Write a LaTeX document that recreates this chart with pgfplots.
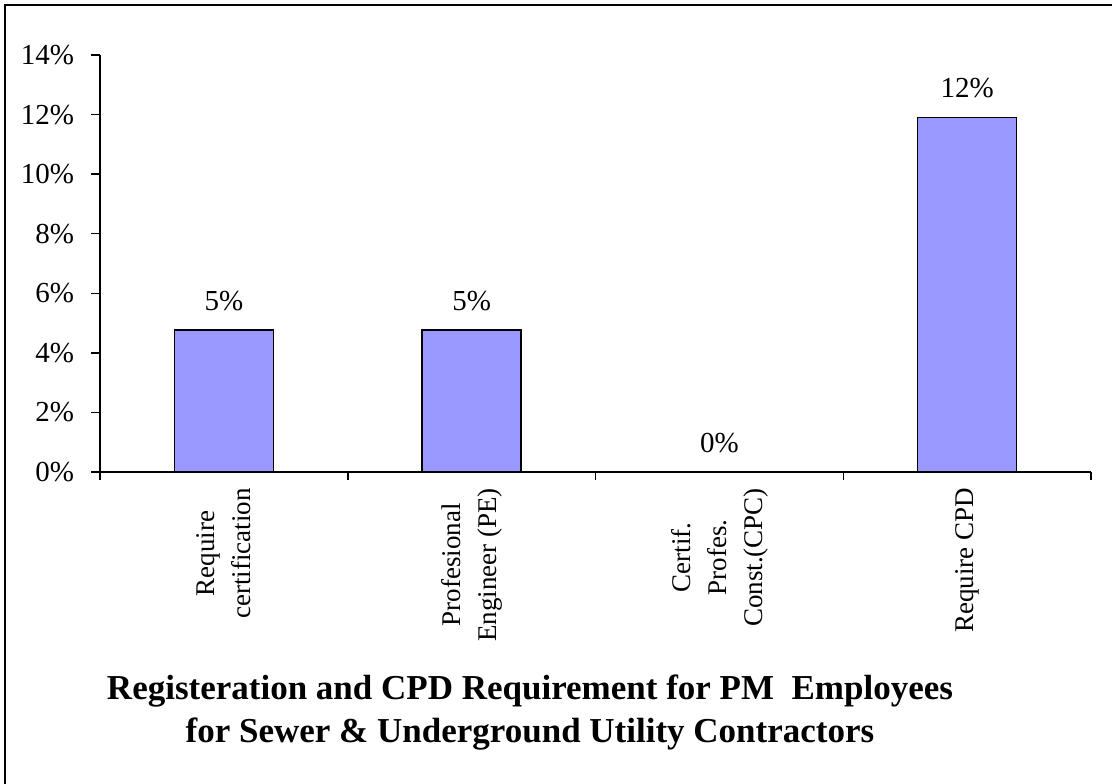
\documentclass[border=0pt]{standalone}
\usepackage{fontspec}
\setmainfont{Liberation Serif}
\usepackage{pgfplots}
\pgfplotsset{compat=1.18}
\definecolor{barblue}{HTML}{9999FF}

\begin{document}
\begin{tikzpicture}
% page = 1112 x 783 px, 1px = 0.5pt
\useasboundingbox (0,0) rectangle (556pt,-391.5pt);
\draw[line width=1pt] (2.3pt,-420pt) -- (2.3pt,-2.3pt) -- (580pt,-2.3pt);

\begin{axis}[
  at={(50pt,-236pt)}, anchor=south west,
  scale only axis,
  width=495.5pt, height=208.5pt,
  xmin=-0.5, xmax=3.5,
  ymin=0, ymax=14,
  axis x line=bottom, axis y line=left,
  axis line style={-, line width=1pt},
  tick align=outside,
  xtick={0,1,2,3},
  xticklabels={{Require\\certification},{Profesional\\Engineer (PE)},{Certif.\\Profes.\\Const.(CPC)},{Require CPD}},
  xticklabel style={rotate=90, anchor=east, align=center, font=\fontsize{13.5}{18}\selectfont},
  major x tick style={draw=none},
  minor xtick={-0.5,0.5,1.5,2.5,3.5},
  minor x tick style={black, line width=0.75pt},
  minor tick length=4pt,
  ytick={0,2,4,6,8,10,12,14},
  yticklabels={0\%,2\%,4\%,6\%,8\%,10\%,12\%,14\%},
  yticklabel style={font=\fontsize{14.5}{17}\selectfont, xshift=-5pt},
  major y tick style={black, line width=0.75pt},
  major tick length=4.5pt,
  /pgf/number format/assume math mode=true,
  ybar, bar width=0.4,
  nodes near coords={\pgfmathprintnumber[fixed,precision=0]{\pgfplotspointmeta}\%},
  every node near coord/.append style={font=\fontsize{14.5}{17}\selectfont, yshift=6pt},
  clip=false
]
\addplot[fill=barblue, draw=black, line width=0.75pt] coordinates {
  (0, 4.76) (1, 4.76) (2, 0) (3, 11.9)
};
\end{axis}

\node[font=\bfseries\fontsize{17.5}{21.5}\selectfont, align=center] at (265pt,-356.5pt)
  {Registeration and CPD Requirement for PM\ \ Employees\\for Sewer \& Underground Utility Contractors};
\end{tikzpicture}
\end{document}
